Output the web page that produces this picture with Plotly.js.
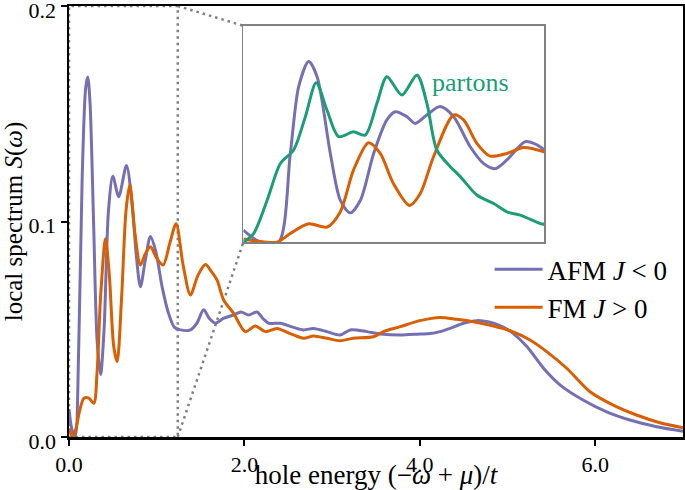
<!DOCTYPE html>
<html>
<head>
<meta charset="utf-8">
<script src="https://cdn.plot.ly/plotly-3.0.1.min.js"></script>
<style>html,body{margin:0;padding:0;background:#fff;}#chart{width:685px;height:490px;}</style>
</head>
<body>
<div id="chart"></div>
<script>
// ---- main panel data (x: hole energy, y: S(omega)) ----
const afmX = [0, 0.03, 0.07, 0.11, 0.15, 0.19, 0.214, 0.24, 0.28, 0.32, 0.36, 0.40, 0.45, 0.50, 0.567, 0.655, 0.72, 0.77, 0.814, 0.87, 0.928, 0.99, 1.06, 1.13, 1.20, 1.27, 1.384, 1.46, 1.535, 1.60, 1.668, 1.76, 1.874, 1.96, 2.048, 2.143, 2.21, 2.276, 2.41, 2.55, 2.674, 2.788, 2.94, 3.09, 3.206, 3.396, 3.55, 3.776, 4.0, 4.117, 4.23, 4.345, 4.497, 4.65, 4.84, 4.95, 5.066, 5.22, 5.41, 5.6, 5.86, 6.13, 6.395, 6.70, 7.0];
const afmY = [0.013, 0.004, 0.0, 0.04, 0.12, 0.162, 0.167, 0.155, 0.10, 0.045, 0.029, 0.05, 0.105, 0.121, 0.1115, 0.126, 0.108, 0.083, 0.0697, 0.082, 0.093, 0.086, 0.07, 0.058, 0.051, 0.0497, 0.0497, 0.053, 0.059, 0.055, 0.0528, 0.055, 0.0566, 0.058, 0.0566, 0.058, 0.055, 0.0528, 0.0528, 0.051, 0.0497, 0.0504, 0.0489, 0.0473, 0.0497, 0.0489, 0.0478, 0.0473, 0.0478, 0.048, 0.0489, 0.0504, 0.0528, 0.054, 0.0528, 0.051, 0.048, 0.042, 0.0319, 0.0241, 0.0172, 0.0117, 0.0079, 0.0048, 0.0027];

const fmX = [0, 0.04, 0.08, 0.12, 0.17, 0.226, 0.283, 0.32, 0.36, 0.416, 0.46, 0.51, 0.549, 0.60, 0.65, 0.693, 0.75, 0.814, 0.87, 0.928, 1.0, 1.073, 1.15, 1.221, 1.30, 1.384, 1.47, 1.555, 1.62, 1.688, 1.763, 1.877, 2.01, 2.124, 2.238, 2.371, 2.52, 2.674, 2.788, 2.94, 3.09, 3.24, 3.47, 3.585, 3.776, 4.0, 4.23, 4.42, 4.61, 4.84, 5.03, 5.256, 5.446, 5.674, 5.94, 6.205, 6.47, 6.737, 7.0];
const fmY = [0.004, 0.0, 0.004, 0.012, 0.018, 0.018, 0.0156, 0.03, 0.065, 0.092, 0.075, 0.042, 0.035, 0.065, 0.105, 0.117, 0.095, 0.0798, 0.085, 0.0883, 0.083, 0.0798, 0.09, 0.099, 0.08, 0.0659, 0.075, 0.080, 0.077, 0.0728, 0.0636, 0.0574, 0.0489, 0.0515, 0.0489, 0.0504, 0.048, 0.0458, 0.0469, 0.0458, 0.0447, 0.0458, 0.0465, 0.0489, 0.0512, 0.054, 0.0555, 0.0546, 0.0535, 0.0515, 0.0493, 0.045, 0.0396, 0.0319, 0.021, 0.0148, 0.0102, 0.0066, 0.0043];

// ---- inset data (normalised units) ----
const inAfmX = [0, 0.056, 0.117, 0.156, 0.184, 0.217, 0.245, 0.289, 0.322, 0.355, 0.389, 0.433, 0.477, 0.505, 0.544, 0.571, 0.61, 0.654, 0.699, 0.754, 0.798, 0.837, 0.876, 0.937, 0.976, 1.0];
const inAfmY = [0.056, 0.0, 0.0, 0.41, 0.72, 0.835, 0.765, 0.41, 0.194, 0.136, 0.194, 0.41, 0.565, 0.603, 0.58, 0.549, 0.588, 0.627, 0.58, 0.441, 0.364, 0.34, 0.38, 0.465, 0.45, 0.426];

const inFmX = [0, 0.045, 0.112, 0.156, 0.217, 0.278, 0.322, 0.366, 0.416, 0.455, 0.499, 0.552, 0.588, 0.632, 0.699, 0.732, 0.776, 0.82, 0.876, 0.931, 1.0];
const inFmY = [0.015, 0.005, 0.0, 0.04, 0.085, 0.07, 0.14, 0.333, 0.46, 0.41, 0.27, 0.17, 0.225, 0.395, 0.588, 0.565, 0.457, 0.398, 0.41, 0.438, 0.418];

const partonX = [0, 0.034, 0.079, 0.123, 0.167, 0.206, 0.242, 0.278, 0.317, 0.366, 0.405, 0.444, 0.477, 0.527, 0.577, 0.61, 0.643, 0.688, 0.721, 0.776, 0.832, 0.876, 0.92, 0.987, 1.0];
const partonY = [0.0, 0.04, 0.194, 0.364, 0.426, 0.58, 0.737, 0.61, 0.488, 0.51, 0.495, 0.642, 0.765, 0.68, 0.773, 0.642, 0.426, 0.349, 0.303, 0.218, 0.179, 0.14, 0.125, 0.086, 0.083];

// ---- labels / ticks ----
const xTickVals = [0, 2, 4, 6];
const xTickText = ['0.0', '2.0', '4.0', '6.0'];
const yTickVals = [0, 0.1, 0.2];
const yTickText = ['0.0', '0.1', '0.2'];
const xRange = [0, 7];
const yRange = [0, 0.2];
const zoomBox = [0, 1.24, 0, 0.2]; // x0, x1, y0, y1 of dotted region

const PURPLE = '#7570b3', ORANGE = '#d95f02', GREEN = '#1b9e77';
const FONT = 'Liberation Serif, Times New Roman, serif';

const insetXDom = [0.284, 0.774];
const insetYDom = [0.452, 0.954];

const traces = [
  {x: afmX, y: afmY, mode: 'lines', name: 'AFM <i>J</i> &lt; 0', line: {color: PURPLE, width: 3, shape: 'spline', smoothing: 0.8}, xaxis: 'x', yaxis: 'y'},
  {x: fmX, y: fmY, mode: 'lines', name: 'FM <i>J</i> &gt; 0', line: {color: ORANGE, width: 3, shape: 'spline', smoothing: 0.8}, xaxis: 'x', yaxis: 'y'},
  {x: inAfmX, y: inAfmY, mode: 'lines', showlegend: false, line: {color: PURPLE, width: 3, shape: 'spline', smoothing: 0.8}, xaxis: 'x2', yaxis: 'y2'},
  {x: inFmX, y: inFmY, mode: 'lines', showlegend: false, line: {color: ORANGE, width: 3, shape: 'spline', smoothing: 0.8}, xaxis: 'x2', yaxis: 'y2'},
  {x: partonX, y: partonY, mode: 'lines', showlegend: false, line: {color: GREEN, width: 3, shape: 'spline', smoothing: 0.8}, xaxis: 'x2', yaxis: 'y2'}
];

const px = v => (v - xRange[0]) / (xRange[1] - xRange[0]);
const py = v => (v - yRange[0]) / (yRange[1] - yRange[0]);
const dotLine = {color: '#808080', width: 2.5, dash: '2.5px,4px'};

const layout = {
  width: 685, height: 490,
  margin: {l: 69, r: 2, t: 6, b: 53},
  paper_bgcolor: '#fff', plot_bgcolor: 'rgba(0,0,0,0)',
  font: {family: FONT, size: 22, color: '#000'},
  showlegend: true,
  legend: {x: 0.685, y: 0.445, xanchor: 'left', yanchor: 'top', bgcolor: 'rgba(0,0,0,0)', font: {size: 27, family: FONT}, itemwidth: 48, tracegroupgap: 0},
  xaxis: {
    domain: [0, 1], range: xRange, tickvals: xTickVals, ticktext: xTickText,
    showline: true, linecolor: '#000', linewidth: 2.5, mirror: true,
    ticks: 'outside', ticklen: 6, tickwidth: 2, tickcolor: '#000',
    showgrid: false, zeroline: false,
    tickfont: {size: 22, family: FONT},
    title: {text: 'hole energy (−<i>ω</i> + <i>μ</i>)/<i>t</i>', font: {size: 27, family: FONT}, standoff: 0}
  },
  yaxis: {
    domain: [0, 1], range: yRange, tickvals: yTickVals, ticktext: yTickText,
    showline: true, linecolor: '#000', linewidth: 2.5, mirror: true,
    ticks: 'outside', ticklen: 6, tickwidth: 2, tickcolor: '#000',
    showgrid: false, zeroline: false, ticklabeloverflow: 'allow', ticklabelshift: 4,
    tickfont: {size: 22, family: FONT},
    title: {text: 'local spectrum <i>S</i>(<i>ω</i>)', font: {size: 25, family: FONT}, standoff: 10}
  },
  xaxis2: {domain: insetXDom, anchor: 'y2', range: [0, 1], showticklabels: false, ticks: '', showgrid: false, zeroline: false, showline: true, mirror: true, linecolor: '#808080', linewidth: 1.5},
  yaxis2: {domain: insetYDom, anchor: 'x2', range: [0, 1], showticklabels: false, ticks: '', showgrid: false, zeroline: false, showline: true, mirror: true, linecolor: '#808080', linewidth: 1.5},
  annotations: [
    {xref: 'x2', yref: 'y2', x: 0.756, y: 0.74, text: 'partons', showarrow: false, font: {size: 26, color: GREEN, family: FONT}}
  ],
  shapes: [
    {type: 'rect', xref: 'x', yref: 'y', x0: zoomBox[0], x1: zoomBox[1], y0: zoomBox[2], y1: zoomBox[3], line: dotLine, layer: 'below'},
    {type: 'line', xref: 'paper', yref: 'paper', x0: px(zoomBox[1]), y0: py(zoomBox[3]), x1: insetXDom[0], y1: insetYDom[1], line: dotLine, layer: 'below'},
    {type: 'line', xref: 'paper', yref: 'paper', x0: px(zoomBox[1]), y0: py(zoomBox[2]), x1: insetXDom[0], y1: insetYDom[0], line: dotLine, layer: 'below'}
  ]
};

Plotly.newPlot('chart', traces, layout, {staticPlot: true, displayModeBar: false});
</script>
</body>
</html>
